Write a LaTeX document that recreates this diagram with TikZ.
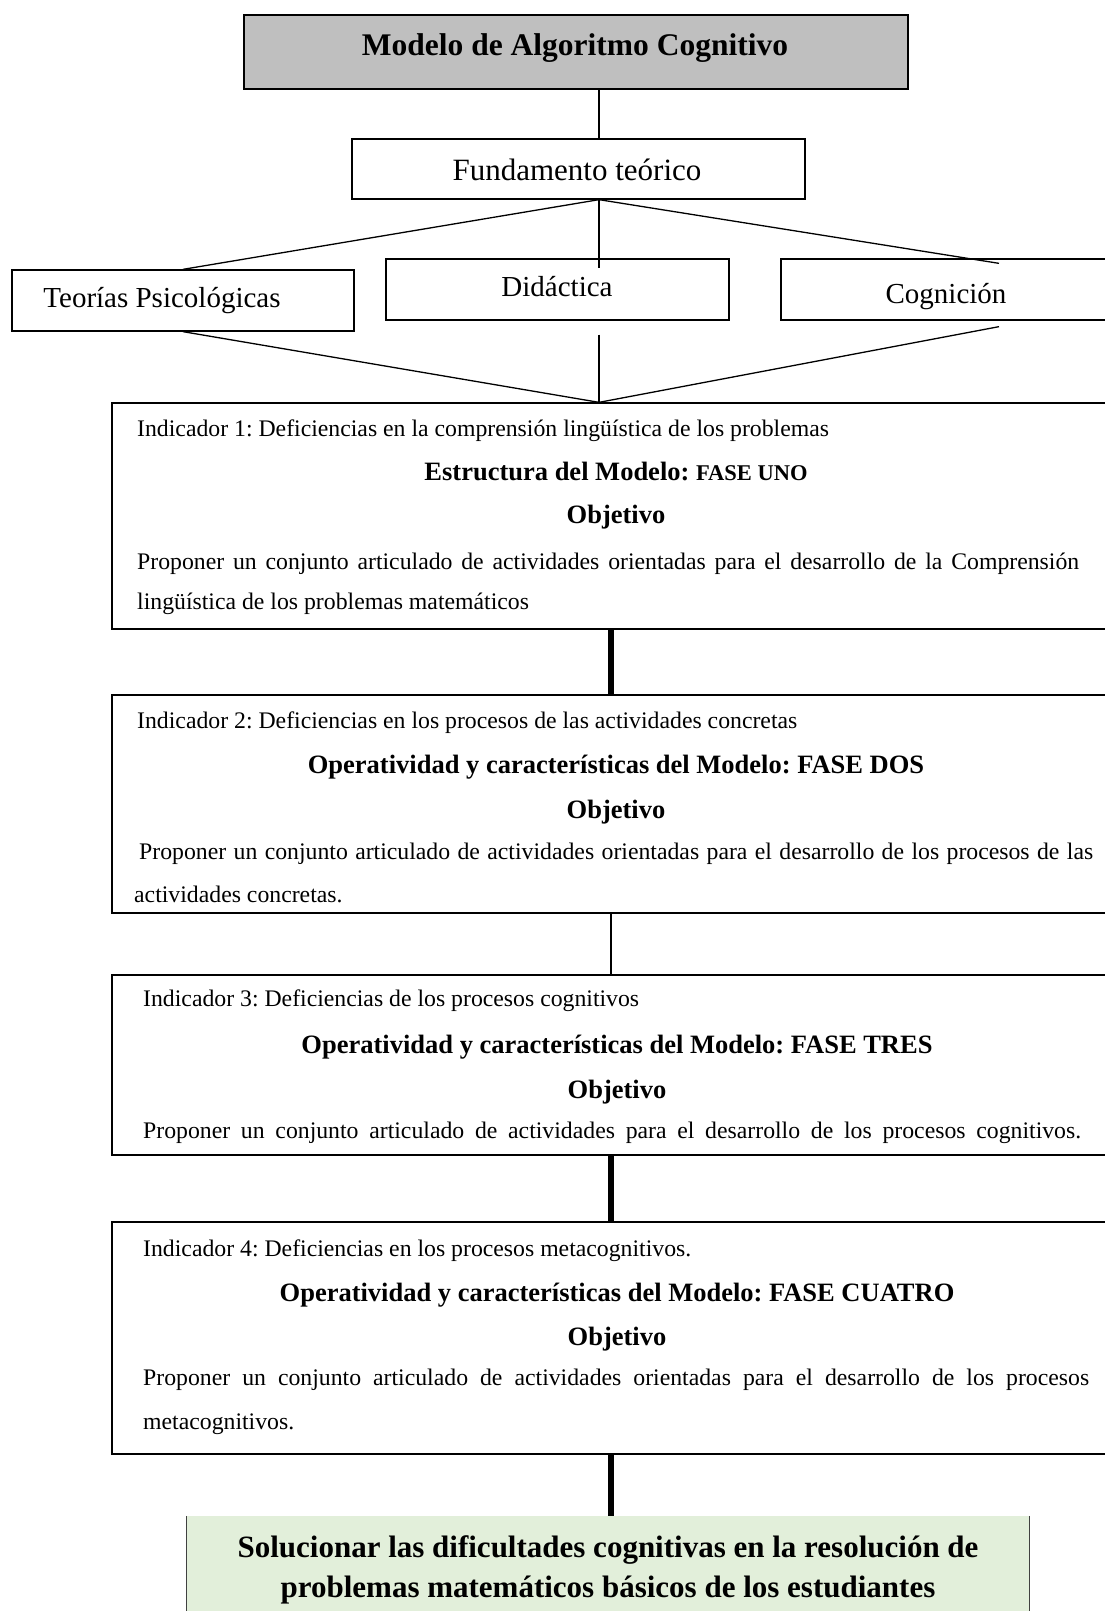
\documentclass[tikz,border=0pt]{standalone}
\usepackage{fontspec}
\setmainfont{Liberation Serif}
\usepackage{xcolor}
\usepackage{tikz}
\usetikzlibrary{calc}
\definecolor{grisfondo}{HTML}{BFBFBF}
\definecolor{verdefondo}{HTML}{E2EFDA}
\newcommand{\tam}[1]{\fontsize{#1}{#1}\selectfont}
\frenchspacing

\begin{document}
\begin{tikzpicture}[x=1pt, y=-1pt,
    caja/.style={draw, line width=1.3pt, inner sep=0pt},
    texto/.style={anchor=base west, inner sep=0pt, font=\tam{23.75}},
    titulo/.style={anchor=base, inner sep=0pt, font=\bfseries\tam{26.5}},
    rotulo/.style={anchor=base, inner sep=0pt, font=\tam{29}},
    fino/.style={line width=1.3pt}]
			% Marco
			\useasboundingbox (0,0) rectangle (1105,1611);
			\clip (0,0) rectangle (1105,1611);
			% Cajas de arriba
			\node[caja, fill=grisfondo, minimum width=664, minimum height=74] (modelo) at (576,52) {};
			\node[caja, minimum width=453, minimum height=60] (fund) at (578.5,169) {};
			\node[caja, minimum width=342, minimum height=61] (teo) at (183,300.5) {};
			\node[caja, minimum width=343, minimum height=61] (dida) at (557.5,289.5) {};
			\node[caja, minimum width=436, minimum height=61] (cog) at (999,289.5) {};
			\node[anchor=base, inner sep=0pt, font=\bfseries\tam{31.5}] (tmodelo) at (575,56) {Modelo de Algoritmo Cognitivo};
			\node[rotulo, font=\tam{31}] (tfund) at (577,180) {Fundamento teórico};
			\node[rotulo] (tteo) at (162,307) {Teorías Psicológicas};
			\node[rotulo] (tdida) at (557,296) {Didáctica};
			\node[rotulo] (tcog) at (946,303) {Cognición};
			% Cajas de los indicadores
			\node[caja, minimum width=1008, minimum height=226] (ind1) at (616,516) {};
			\node[caja, minimum width=1008, minimum height=218] (ind2) at (616,804) {};
			\node[caja, minimum width=1008, minimum height=180] (ind3) at (616,1065) {};
			\node[caja, minimum width=1008, minimum height=232] (ind4) at (616,1338) {};
			\node[fill=verdefondo, inner sep=0pt, minimum width=842, minimum height=140] (verde) at (608,1586) {};
			\draw[fino, black!75] (verde.north west) -- (verde.south west);
			\draw[fino, black!75] (verde.north east) -- (verde.south east);
			% Conectores
			\coordinate (eje) at (599,0);
			\coordinate (eje2) at (611,0);
			\draw[fino] (modelo.south -| eje) -- (fund.north -| eje);
			\draw[fino] (fund.south -| eje) -- (teo.north);
			\draw[fino] (fund.south -| eje) -- ($(dida.north -| eje)+(0,10)$);
			\draw[fino] (fund.south -| eje) -- ($(cog.north)+(0,5)$);
			\draw[fino] (teo.south) -- (ind1.north -| eje);
			\draw[fino] ($(dida.south -| eje)+(0,14)$) -- (ind1.north -| eje);
			\draw[fino] ($(cog.south)+(0,6)$) -- (ind1.north -| eje);
			\foreach \a/\b/\g in {ind1/ind2/5.5, ind2/ind3/2.5, ind3/ind4/5.5, ind4/verde/5.5}
			\draw[line width=\g pt] (\a.south -| eje2) -- (\b.north -| eje2);
			% Fase uno
			\node[texto] (i1a) at (137,436) {Indicador 1: Deficiencias en la comprensión lingüística de los problemas};
			\node[titulo] (i1b) at (616,480) {Estructura del Modelo: {\tam{22.5}FASE UNO}};
			\node[titulo] (i1c) at (616,523) {Objetivo};
			\node[texto] (i1d) at (137,569) {\makebox[942pt][s]{Proponer un conjunto articulado de actividades orientadas para el desarrollo de la Comprensión}};
			\node[texto] (i1e) at (137,609) {lingüística de los problemas matemáticos};
			% Fase dos
			\node[texto] (i2a) at (137,728) {Indicador 2: Deficiencias en los procesos de las actividades concretas};
			\node[titulo] (i2b) at (616,773) {Operatividad y características del Modelo: FASE DOS};
			\node[titulo] (i2c) at (616,818) {Objetivo};
			\node[texto] (i2d) at (139,859) {\makebox[954pt][s]{Proponer un conjunto articulado de actividades orientadas para el desarrollo de los procesos de las}};
			\node[texto] (i2e) at (134,902) {actividades concretas.};
			% Fase tres
			\node[texto] (i3a) at (143,1006) {Indicador 3: Deficiencias de los procesos cognitivos};
			\node[titulo] (i3b) at (617,1053) {Operatividad y características del Modelo: FASE TRES};
			\node[titulo] (i3c) at (617,1098) {Objetivo};
			\node[texto] (i3d) at (143,1138) {\makebox[938pt][s]{Proponer un conjunto articulado de actividades para el desarrollo de los procesos cognitivos.}};
			% Fase cuatro
			\node[texto] (i4a) at (143,1256) {Indicador 4: Deficiencias en los procesos metacognitivos.};
			\node[titulo] (i4b) at (617,1301) {Operatividad y características del Modelo: FASE CUATRO};
			\node[titulo] (i4c) at (617,1345) {Objetivo};
			\node[texto] (i4d) at (143,1385) {\makebox[946pt][s]{Proponer un conjunto articulado de actividades orientadas para el desarrollo de los procesos}};
			\node[texto] (i4e) at (143,1429) {metacognitivos.};
			% Meta final
			\node[anchor=base, inner sep=0pt, font=\bfseries\tam{31}] (v1) at (608,1557) {Solucionar las dificultades cognitivas en la resolución de};
			\node[anchor=base, inner sep=0pt, font=\bfseries\tam{31}] (v2) at (608,1597) {problemas matemáticos básicos de los estudiantes};
		\end{tikzpicture}
\end{document}
